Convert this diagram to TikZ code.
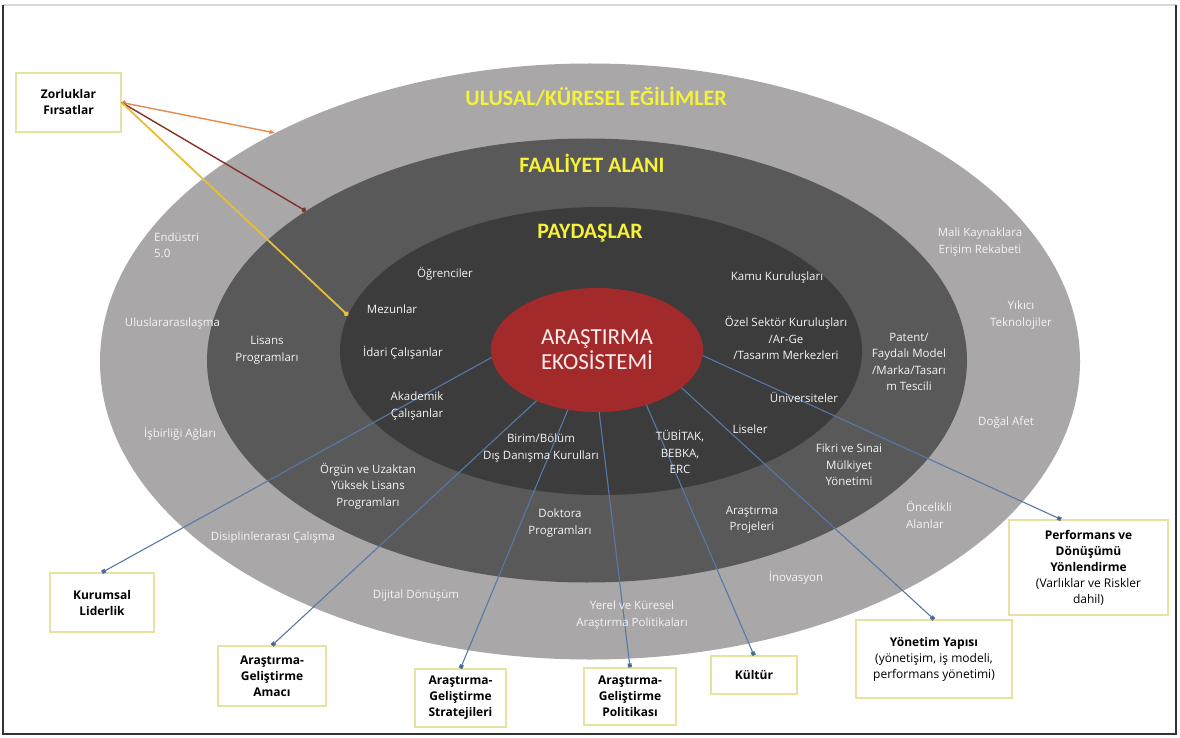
\documentclass[tikz,border=0pt]{standalone}
\usepackage{fontspec}
\setmainfont{Open Sans}
\newfontfamily\carl{Carlito}
\usetikzlibrary{shapes.geometric,arrows.meta}
\definecolor{ringA}{RGB}{169,167,167}
\definecolor{ringB}{RGB}{89,89,89}
\definecolor{ringC}{RGB}{60,60,60}
\definecolor{redcore}{RGB}{163,42,43}
\definecolor{ttlyellow}{RGB}{246,242,58}
\definecolor{boxborder}{RGB}{232,226,160}
\definecolor{connblue}{RGB}{88,120,168}
\definecolor{tipblue}{RGB}{60,85,130}
\definecolor{zorange}{RGB}{226,140,80}
\definecolor{zbrown}{RGB}{130,48,44}
\definecolor{zyellow}{RGB}{232,190,55}
\definecolor{framecol}{RGB}{50,50,50}
\definecolor{labelwhite}{RGB}{244,244,244}
\tikzset{
  ring/.style={ellipse, inner sep=0pt, outer sep=0pt, draw=none},
  lbl/.style={text=labelwhite, align=center, inner sep=0pt, font=\fontsize{11.5}{16.5}\selectfont},
  ttl/.style={text=ttlyellow, inner sep=0pt, font=\carl\bfseries\fontsize{22}{26}\selectfont},
  box/.style={draw=boxborder, line width=1.2pt, fill=white, align=center, inner sep=2pt, text=black, font=\bfseries\fontsize{12}{16}\selectfont},
  conn/.style={draw=connblue, line width=1.1pt, -{Square[length=4pt,width=4pt,fill=tipblue]}},
}
\begin{document}
\begin{tikzpicture}[x=1pt,y=-1pt]
\useasboundingbox (0,0) rectangle (1180,738);
\fill[white] (0,0) rectangle (1180,738);
% frame
\draw[draw=black!15, line width=1.2pt] (3,5) -- (1176,5);
\draw[draw=framecol, line width=1.6pt] (3,5) -- (3,734) -- (1176,734) -- (1176,5);

% rings
\node[ring, fill=ringA, minimum width=980pt, minimum height=596pt] (outer) at (590,361.5) {};
\node[ring, fill=ringB, minimum width=760pt, minimum height=444pt] (mid) at (587,360.5) {};
\node[ring, fill=ringC, minimum width=522pt, minimum height=288pt] (inner) at (601,351) {};
\node[ring, fill=redcore, minimum width=212pt, minimum height=124pt, text=white!93!red, font=\carl\fontsize{23}{25}\selectfont, align=center] (red) at (597,350) {ARAŞTIRMA\\EKOSİSTEMİ};

% titles
\node[ttl] (t1) at (596,97) {ULUSAL/KÜRESEL EĞİLİMLER};
\node[ttl] (t2) at (592,163) {FAALİYET ALANI};
\node[ttl] (t3) at (590,233) {PAYDAŞLAR};

% boxes
\node[box, minimum width=105pt, minimum height=59pt] (zl) at (68.5,102.5) {Zorluklar\\Fırsatlar};
\node[box, minimum width=104pt, minimum height=59pt] (kl) at (102,602.5) {Kurumsal\\Liderlik};
\node[box, minimum width=108pt, minimum height=60pt] (am) at (272,676) {Araştırma-\\Geliştirme\\Amacı};
\node[box, minimum width=91pt, minimum height=58pt] (st) at (460.5,698) {Araştırma-\\Geliştirme\\Stratejileri};
\node[box, minimum width=92pt, minimum height=57pt] (po) at (630,696.5) {Araştırma-\\Geliştirme\\Politikası};
\node[box, minimum width=86pt, minimum height=38pt] (ku) at (754,675) {Kültür};
\node[box, minimum width=156pt, minimum height=78pt] (yy) at (934,659) {Yönetim Yapısı\\{\mdseries(yönetişim, iş modeli,}\\{\mdseries performans yönetimi)}};
\node[box, minimum width=159pt, minimum height=95pt] (pf) at (1088.5,567.5) {Performans ve\\Dönüşümü\\Yönlendirme\\{\mdseries(Varlıklar ve Riskler}\\{\mdseries dahil)}};

% connectors from core
\draw[conn] (red.184) -- (kl.north);
\draw[conn] (red.220) -- (am.north);
\draw[conn] (red.244) -- (st.north);
\draw[conn] (red.272) -- (po.north);
\draw[conn] (red.312) -- (ku.north);
\draw[conn] (red.336) -- (yy.north);
\draw[conn] (red.357) -- ([xshift=-27.5pt]pf.north);

% connectors from Zorluklar
\draw[draw=zorange, line width=1.4pt, {Circle[length=5pt,fill=zorange]}-{Latex[length=6pt,width=5pt]}] (zl.east) -- (outer.144.5);
\draw[draw=zbrown, line width=1.4pt, -{Circle[length=5pt]}] (zl.east) -- (mid.152.8);
\draw[draw=zyellow, line width=1.8pt, -{Circle[length=5pt]}] (zl.east) -- (inner.172.3);

% outer ring labels
\node[lbl, anchor=west, align=left] (endu) at (154,245) {Endüstri\\5.0};
\node[lbl] (ulu) at (172.5,324) {Uluslararasılaşma};
\node[lbl] (isb) at (180,434) {İşbirliği Ağları};
\node[lbl] (dis) at (273,538) {Disiplinlerarası Çalışma};
\node[lbl] (dij) at (416,596) {Dijital Dönüşüm};
\node[lbl] (yer) at (632,615) {Yerel ve Küresel\\Araştırma Politikaları};
\node[lbl] (ino) at (796,578) {İnovasyon};
\node[lbl, anchor=west, align=left] (onc) at (906,515) {Öncelikli\\Alanlar};
\node[lbl] (dog) at (1006,422) {Doğal Afet};
\node[lbl] (yik) at (1021,315) {Yıkıcı\\Teknolojiler};
\node[lbl] (mali) at (980,242) {Mali Kaynaklara\\Erişim Rekabeti};

% middle ring labels
\node[lbl] (lis) at (267,350) {Lisans\\Programları};
\node[lbl] (org) at (368,486) {Örgün ve Uzaktan\\Yüksek Lisans\\Programları};
\node[lbl] (dok) at (560,523) {Doktora\\Programları};
\node[lbl] (arp) at (752,520) {Araştırma\\Projeleri};
\node[lbl] (fik) at (849,465) {Fikri ve Sınai\\Mülkiyet\\Yönetimi};
\node[lbl] (pat) at (909,362) {Patent/\\Faydalı Model\\/Marka/Tasarı\\m Tescili};

% inner ring labels
\node[lbl] (ogr) at (445,274) {Öğrenciler};
\node[lbl] (mez) at (392,309) {Mezunlar};
\node[lbl] (ida) at (403,353) {İdari Çalışanlar};
\node[lbl] (aka) at (417,406) {Akademik\\Çalışanlar};
\node[lbl] (bir) at (541,448) {Birim/Bölüm\\Dış Danışma Kurulları};
\node[lbl] (tub) at (680,452) {TÜBİTAK,\\BEBKA,\\ERC};
\node[lbl] (lise) at (750,429) {Liseler};
\node[lbl] (uni) at (804,397) {Üniversiteler};
\node[lbl] (oze) at (786,338) {Özel Sektör Kuruluşları\\/Ar-Ge\\/Tasarım Merkezleri};
\node[lbl] (kam) at (777,278) {Kamu Kuruluşları};
\end{tikzpicture}
\end{document}
